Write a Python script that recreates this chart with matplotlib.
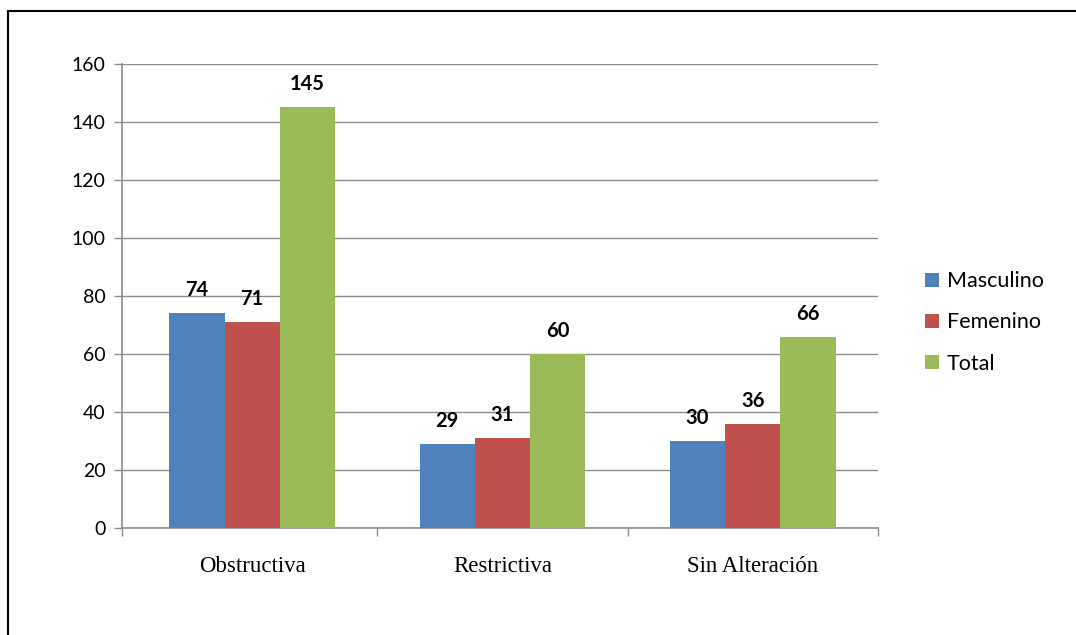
import matplotlib
matplotlib.use("Agg")
import matplotlib.pyplot as plt
import numpy as np
from matplotlib.patches import Patch
from matplotlib.lines import Line2D

categories = ["Obstructiva", "Restrictiva", "Sin Alteración"]
series_names = ["Masculino", "Femenino", "Total"]
masculino = [74, 29, 30]
femenino = [71, 31, 36]
total = [145, 60, 66]
colors = ["#4F81BD", "#C0504D", "#9BBB59"]
y_ticks = [0, 20, 40, 60, 80, 100, 120, 140, 160]

W, H = 1076, 635
fig = plt.figure(figsize=(W / 100, H / 100), dpi=100)

# outer frame (left and top edges)
fig.add_artist(Line2D([8 / W, 8 / W], [1 - 11 / H, 1 - 634 / H], color="black", lw=1.5))
fig.add_artist(Line2D([8 / W, 1.0], [1 - 11 / H, 1 - 11 / H], color="black", lw=1.5))

ax = fig.add_axes([122 / W, 1 - 528 / H, (878 - 122) / W, (528 - 64) / H])

x = np.arange(len(categories))
bw = 0.221
for i, (vals, name, c) in enumerate(zip([masculino, femenino, total], series_names, colors)):
    pos = x + (i - 1) * bw
    ax.bar(pos, vals, width=bw, color=c, edgecolor="none", zorder=3)
    for p, v in zip(pos, vals):
        ax.text(p, v + 4.5, str(v), ha="center", va="bottom", fontsize=14.5,
                fontweight="bold", family="Lato", zorder=4)

ax.set_xlim(-0.52, len(categories) - 0.5)
ax.set_ylim(0, 160)
ax.set_yticks(y_ticks)
ax.set_yticklabels([str(t) for t in y_ticks], fontsize=14, family="Lato")
ax.yaxis.grid(True, color="#8C8C8C", lw=1, zorder=0)
ax.tick_params(axis="y", length=6, color="#8C8C8C", width=1, pad=6)

ax.set_xticks(x)
ax.set_xticklabels(categories, fontsize=16.5, family="Liberation Serif")
ax.tick_params(axis="x", length=0, pad=20)
ax.set_xticks([-0.52, 0.5, 1.5, 2.5], minor=True)
ax.tick_params(axis="x", which="minor", length=6, color="#8C8C8C", width=1)

for s in ["top", "right"]:
    ax.spines[s].set_visible(False)
for s in ["left", "bottom"]:
    ax.spines[s].set_color("#8C8C8C")
    ax.spines[s].set_linewidth(1.2)

handles = [Patch(facecolor=c, edgecolor="none") for c in colors]
leg = fig.legend(handles, series_names, loc="upper left",
                 bbox_to_anchor=(906 / W, 1 - 252 / H), frameon=False,
                 prop={"family": "Lato", "size": 15.5}, handlelength=0.65,
                 handleheight=0.65, handletextpad=0.35, labelspacing=0.98)

fig.savefig("out.png", dpi=100, facecolor="white")
